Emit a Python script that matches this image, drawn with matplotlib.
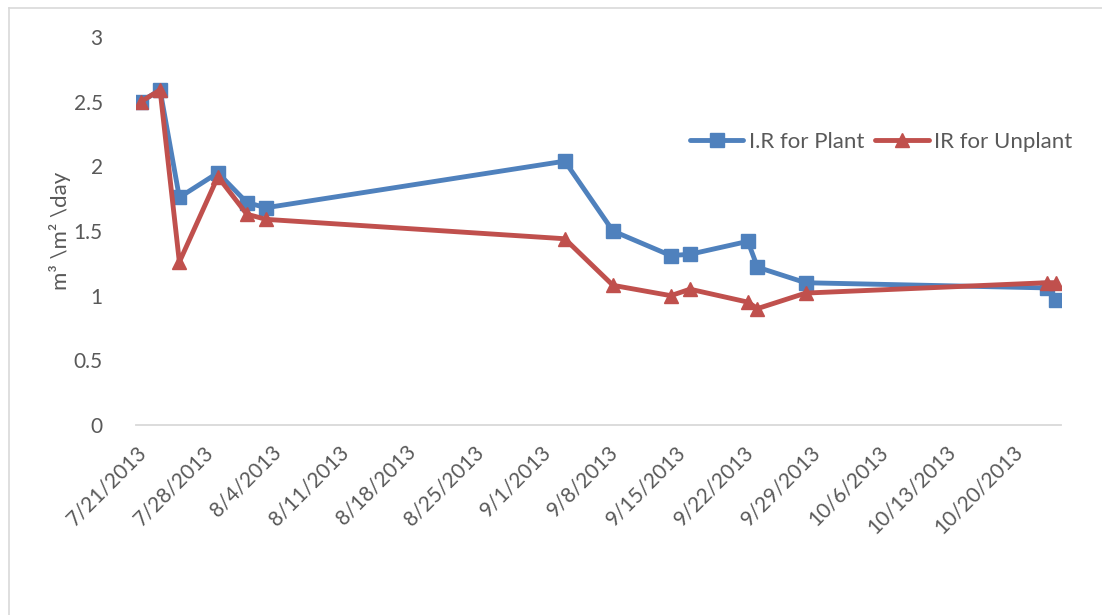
import datetime as dt
import matplotlib
matplotlib.use("Agg")
import matplotlib.pyplot as plt
from matplotlib.lines import Line2D

plt.rcParams['font.family'] = ['Lato', 'DejaVu Sans']

# sampling dates (2013)
dates = ["7/21", "7/23", "7/25", "7/29", "8/1", "8/3", "9/3", "9/8",
         "9/14", "9/16", "9/22", "9/23", "9/28", "10/23", "10/24"]
ir_plant = [2.50, 2.59, 1.76, 1.95, 1.72, 1.68, 2.04, 1.50,
            1.31, 1.32, 1.42, 1.22, 1.10, 1.06, 0.97]
ir_unplant = [2.50, 2.59, 1.26, 1.92, 1.63, 1.59, 1.44, 1.08,
              1.00, 1.05, 0.95, 0.90, 1.02, 1.10, 1.10]
tick_dates = ["7/21", "7/28", "8/4", "8/11", "8/18", "8/25", "9/1", "9/8",
              "9/15", "9/22", "9/29", "10/6", "10/13", "10/20"]
y_ticks = [0, 0.5, 1, 1.5, 2, 2.5, 3]


def to_date(s):
    m, d = s.split("/")
    return dt.datetime(2013, int(m), int(d))


x = [to_date(s) for s in dates]
half = dt.timedelta(hours=12)
ticks = [to_date(s) - half for s in tick_dates]

blue = "#4F81BD"
red = "#C0504D"
grey = "#595959"

fig = plt.figure(figsize=(11.02, 6.15), dpi=100)
ax = fig.add_axes([136 / 1102, 1 - 425 / 615, (1061 - 136) / 1102, (425 - 37) / 615])

ax.plot(x, ir_plant, color=blue, lw=3.5, marker="s", ms=9.5, label="I.R for Plant",
        solid_capstyle="round")
ax.plot(x, ir_unplant, color=red, lw=3.5, marker="^", ms=10.5, label="IR for Unplant",
        solid_capstyle="round")

ax.set_xlim(to_date("7/21") - half, to_date("10/25") - half)
ax.set_ylim(0, 3)
ax.set_yticks(y_ticks)
ax.set_yticklabels([f"{v:g}" for v in y_ticks])
ax.set_xticks(ticks)
ax.set_xticklabels([s + "/2013" for s in tick_dates], rotation=45, ha="right",
                   rotation_mode="anchor")

for side in ["top", "right", "left"]:
    ax.spines[side].set_visible(False)
ax.spines["bottom"].set_color("#D9D9D9")
ax.spines["bottom"].set_linewidth(1.3)
ax.tick_params(axis="both", length=0, colors=grey, labelsize=15)
ax.tick_params(axis="y", pad=24)
ax.tick_params(axis="x", pad=12)

ax.set_ylabel("m³ \\m² \\day", fontsize=16, color=grey, labelpad=2)

ax.legend(loc="center left", bbox_to_anchor=(690 / 1102, 1 - 142 / 615),
          bbox_transform=fig.transFigure, frameon=False, ncol=2, fontsize=16,
          labelcolor=grey, handlelength=2.4, columnspacing=0.5, handletextpad=0.25,
          borderpad=0, borderaxespad=0)

# chart border (top and left edges visible)
fig.add_artist(Line2D([9 / 1102, 1], [1 - 8 / 615, 1 - 8 / 615], color="#D9D9D9", lw=1.2))
fig.add_artist(Line2D([9 / 1102, 9 / 1102], [0, 1 - 8 / 615], color="#D9D9D9", lw=1.2))

fig.savefig("out.png", dpi=100)
